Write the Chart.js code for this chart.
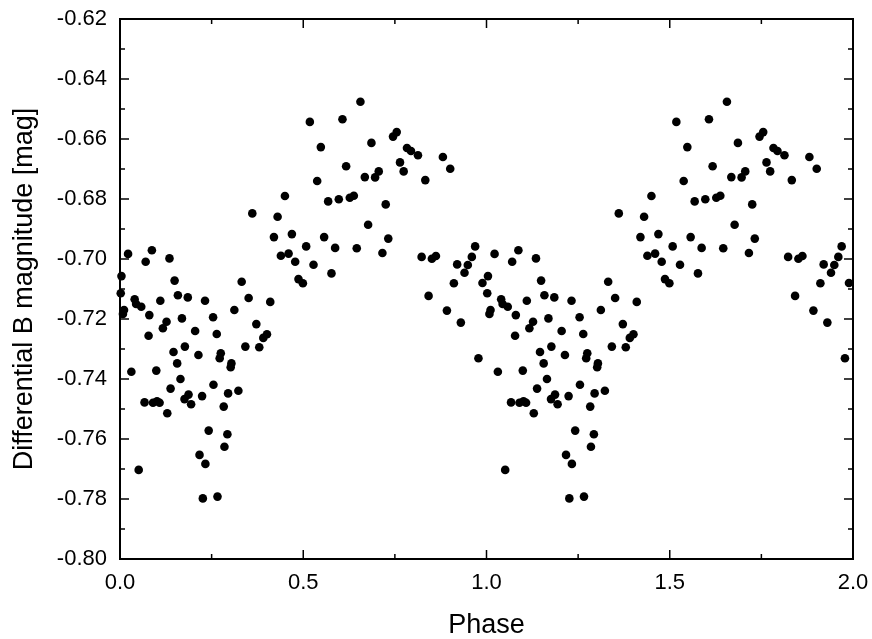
<!DOCTYPE html>
<html>
<head>
<meta charset="utf-8">
<script src="https://cdn.jsdelivr.net/npm/chart.js@4.4.1/dist/chart.umd.min.js"></script>
<style>
  html, body { margin: 0; padding: 0; background: #ffffff; }
  #wrap { width: 872px; height: 639px; }
</style>
</head>
<body>
<div id="wrap"><canvas id="c" width="872" height="639"></canvas></div>
<script>
// One cycle of the phased light curve; the plot shows it twice (phase and phase + 1).
const phase = [
  0.022, 0.087, 0.070, 0.135, 0.004, 0.149, 0.002, 0.158, 0.185, 0.040,
  0.044, 0.058, 0.011, 0.008, 0.110, 0.080, 0.169, 0.127, 0.117, 0.205,
  0.078, 0.177, 0.146, 0.214, 0.156, 0.031, 0.099, 0.165, 0.138, 0.187,
  0.176, 0.194, 0.067, 0.090, 0.101, 0.108, 0.129, 0.217, 0.051, 0.232,
  0.224, 0.242, 0.233, 0.226, 0.266, 0.450, 0.361, 0.430, 0.420, 0.469,
  0.439, 0.460, 0.478, 0.487, 0.332, 0.351, 0.410, 0.312, 0.254, 0.372,
  0.264, 0.401, 0.391, 0.342, 0.380, 0.275, 0.272, 0.304, 0.302, 0.255,
  0.295, 0.323, 0.283, 0.293, 0.285, 0.656, 0.518, 0.607, 0.548, 0.686,
  0.617, 0.538, 0.668, 0.696, 0.706, 0.568, 0.597, 0.627, 0.638, 0.725,
  0.677, 0.557, 0.508, 0.587, 0.646, 0.716, 0.732, 0.528, 0.577, 0.499,
  0.755, 0.745, 0.783, 0.794, 0.813, 0.881, 0.901, 0.764, 0.774, 0.833,
  0.823, 0.851, 0.862, 0.969, 0.960, 0.920, 0.949, 0.940, 0.911, 0.989,
  0.842, 0.892, 0.930, 0.978
];
const mag = [
  -0.6983, -0.6971, -0.7009, -0.6998, -0.7057, -0.7072, -0.7114, -0.7121, -0.7128, -0.7134,
  -0.7150, -0.7159, -0.7170, -0.7183, -0.7139, -0.7187, -0.7198, -0.7209, -0.7231, -0.7240,
  -0.7256, -0.7292, -0.7310, -0.7320, -0.7348, -0.7376, -0.7372, -0.7400, -0.7432, -0.7452,
  -0.7467, -0.7484, -0.7478, -0.7479, -0.7474, -0.7479, -0.7514, -0.7653, -0.7703, -0.7139,
  -0.7457, -0.7572, -0.7683, -0.7798, -0.7792, -0.6790, -0.6848, -0.6859, -0.6927, -0.6917,
  -0.6989, -0.6982, -0.7009, -0.7067, -0.7076, -0.7130, -0.7143, -0.7170, -0.7194, -0.7217,
  -0.7250, -0.7251, -0.7263, -0.7292, -0.7294, -0.7314, -0.7331, -0.7348, -0.7361, -0.7419,
  -0.7448, -0.7439, -0.7492, -0.7584, -0.7626, -0.6476, -0.6543, -0.6534, -0.6627, -0.6613,
  -0.6691, -0.6740, -0.6727, -0.6728, -0.6708, -0.6808, -0.6801, -0.6796, -0.6789, -0.6818,
  -0.6886, -0.6927, -0.6958, -0.6963, -0.6964, -0.6980, -0.6932, -0.7019, -0.7048, -0.7081,
  -0.6577, -0.6592, -0.6630, -0.6640, -0.6654, -0.6660, -0.6699, -0.6678, -0.6708, -0.6737,
  -0.6993, -0.6999, -0.6990, -0.6958, -0.6993, -0.7018, -0.7020, -0.7046, -0.7081, -0.7080,
  -0.7123, -0.7172, -0.7212, -0.7331
];
const xTicks = [0.0, 0.5, 1.0, 1.5, 2.0];
const yTicks = [-0.80, -0.78, -0.76, -0.74, -0.72, -0.70, -0.68, -0.66, -0.64, -0.62];
const xTitle = 'Phase';
const yTitle = 'Differential B magnitude [mag]';

const points = [];
for (let i = 0; i < phase.length; i++) points.push({ x: phase[i], y: mag[i] });
for (let i = 0; i < phase.length; i++) points.push({ x: phase[i] + 1, y: mag[i] });

const FONT = '"Liberation Sans", Arial, Helvetica, sans-serif';

const framePlugin = {
  id: 'frame',
  afterDraw(chart) {
    const { ctx, chartArea: a, scales: { x, y } } = chart;
    ctx.save();
    ctx.strokeStyle = '#000';
    ctx.lineWidth = 2;
    ctx.strokeRect(a.left, a.top, a.right - a.left, a.bottom - a.top);
    ctx.lineWidth = 1.5;
    const MAJ = 9, MIN = 5;
    const line = (x1, y1, x2, y2) => { ctx.beginPath(); ctx.moveTo(x1, y1); ctx.lineTo(x2, y2); ctx.stroke(); };
    for (let i = 0; i < xTicks.length; i++) {
      const px = x.getPixelForValue(xTicks[i]);
      line(px, a.bottom, px, a.bottom - MAJ);
      line(px, a.top, px, a.top + MAJ);
      if (i < xTicks.length - 1) {
        const pm = x.getPixelForValue((xTicks[i] + xTicks[i + 1]) / 2);
        line(pm, a.bottom, pm, a.bottom - MIN);
        line(pm, a.top, pm, a.top + MIN);
      }
    }
    for (let i = 0; i < yTicks.length; i++) {
      const py = y.getPixelForValue(yTicks[i]);
      line(a.left, py, a.left + MAJ, py);
      line(a.right, py, a.right - MAJ, py);
      if (i < yTicks.length - 1) {
        const pm = y.getPixelForValue((yTicks[i] + yTicks[i + 1]) / 2);
        line(a.left, pm, a.left + MIN, pm);
        line(a.right, pm, a.right - MIN, pm);
      }
    }
    ctx.restore();
  }
};

new Chart(document.getElementById('c'), {
  type: 'scatter',
  data: {
    datasets: [{
      data: points,
      pointRadius: 4.3,
      pointHoverRadius: 4.3,
      pointBackgroundColor: '#000',
      pointBorderWidth: 0,
      borderColor: '#000',
      showLine: false,
      clip: false
    }]
  },
  options: {
    responsive: false,
    devicePixelRatio: 1,
    animation: false,
    events: [],
    layout: { padding: { left: 0, right: 19, top: 19, bottom: 0 } },
    plugins: { legend: { display: false }, tooltip: { enabled: false } },
    scales: {
      x: {
        type: 'linear',
        min: 0, max: 2,
        afterBuildTicks: s => { s.ticks = xTicks.map(v => ({ value: v })); },
        afterFit: s => { s.height = 80; s.paddingLeft = 0; s.paddingRight = 0; },
        grid: { display: false, drawTicks: false },
        border: { display: false },
        ticks: {
          color: '#000',
          font: { family: FONT, size: 22 },
          padding: 11,
          maxRotation: 0,
          autoSkip: false,
          callback: v => Number(v).toFixed(1)
        },
        title: {
          display: true, text: xTitle, color: '#000',
          font: { family: FONT, size: 27 },
          padding: { top: 0, bottom: -3 }
        }
      },
      y: {
        type: 'linear',
        min: -0.80, max: -0.62,
        afterBuildTicks: s => { s.ticks = yTicks.map(v => ({ value: v })); },
        afterFit: s => { s.width = 120; s.paddingTop = 0; s.paddingBottom = 0; },
        grid: { display: false, drawTicks: false },
        border: { display: false },
        ticks: {
          color: '#000',
          font: { family: FONT, size: 22 },
          padding: 13,
          autoSkip: false,
          callback: v => Number(v).toFixed(2)
        },
        title: {
          display: true, text: yTitle, color: '#000',
          font: { family: FONT, size: 27 },
          padding: { top: 8, bottom: 0 }
        }
      }
    }
  },
  plugins: [framePlugin]
});
</script>
</body>
</html>
